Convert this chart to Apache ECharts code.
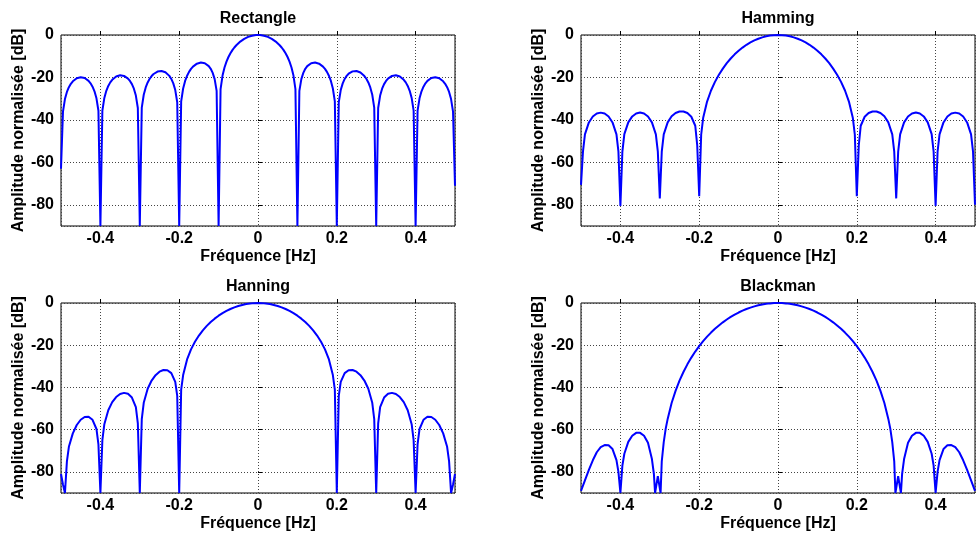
<!DOCTYPE html>
<html>
<head>
<meta charset="utf-8">
<script src="https://cdn.jsdelivr.net/npm/echarts@6/dist/echarts.min.js"></script>
<style>html,body{margin:0;padding:0;background:#fff}#c{width:978px;height:535px}</style>
</head>
<body>
<div id="c"></div>
<script>
const titles = ['Rectangle', 'Hamming', 'Hanning', 'Blackman'];
const xName = 'Fréquence [Hz]';
const yName = 'Amplitude normalisée [dB]';

const rectangle = [
[-0.5,-63],[-0.495,-36.1],[-0.49,-30.2],[-0.485,-26.85],[-0.48,-24.6],[-0.475,-22.98],[-0.47,-21.8],[-0.465,-20.95],[-0.46,-20.37],[-0.455,-20.02],
[-0.45,-19.89],[-0.445,-19.98],[-0.44,-20.28],[-0.435,-20.82],[-0.43,-21.63],[-0.425,-22.77],[-0.42,-24.34],[-0.415,-26.55],[-0.41,-29.85],[-0.405,-35.7],
[-0.4,-90],[-0.395,-35.6],[-0.39,-29.67],[-0.385,-26.28],[-0.38,-23.98],[-0.375,-22.32],[-0.37,-21.1],[-0.365,-20.2],[-0.36,-19.57],[-0.355,-19.17],
[-0.35,-19.0],[-0.345,-19.03],[-0.34,-19.29],[-0.335,-19.78],[-0.33,-20.54],[-0.325,-21.63],[-0.32,-23.14],[-0.315,-25.3],[-0.31,-28.55],[-0.305,-34.4],
[-0.3,-90],[-0.295,-34.2],[-0.29,-28.15],[-0.285,-24.71],[-0.28,-22.35],[-0.275,-20.63],[-0.27,-19.34],[-0.265,-18.38],[-0.26,-17.69],[-0.255,-17.23],
[-0.25,-16.99],[-0.245,-16.96],[-0.24,-17.14],[-0.235,-17.56],[-0.23,-18.25],[-0.225,-19.26],[-0.22,-20.7],[-0.215,-22.78],[-0.21,-25.95],[-0.205,-31.7],
[-0.2,-90],[-0.195,-31.3],[-0.19,-25.2],[-0.185,-21.65],[-0.18,-19.2],[-0.175,-17.37],[-0.17,-15.98],[-0.165,-14.9],[-0.16,-14.09],[-0.155,-13.51],
[-0.15,-13.14],[-0.145,-12.98],[-0.14,-13.02],[-0.135,-13.29],[-0.13,-13.82],[-0.125,-14.67],[-0.12,-15.93],[-0.115,-17.83],[-0.11,-20.8],[-0.105,-26.3],
[-0.1,-90],[-0.095,-25.5],[-0.09,-19.11],[-0.085,-15.29],[-0.08,-12.53],[-0.075,-10.37],[-0.07,-8.62],[-0.065,-7.14],[-0.06,-5.89],[-0.055,-4.82],
[-0.05,-3.89],[-0.045,-3.09],[-0.04,-2.4],[-0.035,-1.81],[-0.03,-1.31],[-0.025,-0.9],[-0.02,-0.57],[-0.015,-0.32],[-0.01,-0.14],[-0.005,-0.04],
[0,0],
[0.005,-0.04],[0.01,-0.14],[0.015,-0.32],[0.02,-0.57],[0.025,-0.9],[0.03,-1.31],[0.035,-1.81],[0.04,-2.4],[0.045,-3.09],[0.05,-3.89],
[0.055,-4.82],[0.06,-5.89],[0.065,-7.14],[0.07,-8.62],[0.075,-10.37],[0.08,-12.53],[0.085,-15.29],[0.09,-19.11],[0.095,-25.5],[0.1,-90],
[0.105,-26.3],[0.11,-20.8],[0.115,-17.83],[0.12,-15.93],[0.125,-14.67],[0.13,-13.82],[0.135,-13.29],[0.14,-13.02],[0.145,-12.98],[0.15,-13.14],
[0.155,-13.51],[0.16,-14.09],[0.165,-14.9],[0.17,-15.98],[0.175,-17.37],[0.18,-19.2],[0.185,-21.65],[0.19,-25.2],[0.195,-31.3],[0.2,-90],
[0.205,-31.7],[0.21,-25.95],[0.215,-22.78],[0.22,-20.7],[0.225,-19.26],[0.23,-18.25],[0.235,-17.56],[0.24,-17.14],[0.245,-16.96],[0.25,-16.99],
[0.255,-17.23],[0.26,-17.69],[0.265,-18.38],[0.27,-19.34],[0.275,-20.63],[0.28,-22.35],[0.285,-24.71],[0.29,-28.15],[0.295,-34.2],[0.3,-90],
[0.305,-34.4],[0.31,-28.55],[0.315,-25.3],[0.32,-23.14],[0.325,-21.63],[0.33,-20.54],[0.335,-19.78],[0.34,-19.29],[0.345,-19.03],[0.35,-19.0],
[0.355,-19.17],[0.36,-19.57],[0.365,-20.2],[0.37,-21.1],[0.375,-22.32],[0.38,-23.98],[0.385,-26.28],[0.39,-29.67],[0.395,-35.6],[0.4,-90],
[0.405,-35.7],[0.41,-29.85],[0.415,-26.55],[0.42,-24.34],[0.425,-22.77],[0.43,-21.63],[0.435,-20.82],[0.44,-20.28],[0.445,-19.98],[0.45,-19.89],
[0.455,-20.02],[0.46,-20.37],[0.465,-20.95],[0.47,-21.8],[0.475,-22.98],[0.48,-24.6],[0.485,-26.85],[0.49,-30.2],[0.495,-36.1],[0.5,-71]
];

const hamming = [
[-0.5,-70.6],[-0.495,-55],[-0.49,-46.8],[-0.48,-41.2],[-0.47,-38.42],[-0.46,-37.0],[-0.45,-36.58],[-0.44,-37.0],[-0.43,-38.41],[-0.42,-41.2],
[-0.41,-46.8],[-0.405,-55],[-0.4,-80.5],[-0.395,-55],[-0.39,-46.7],[-0.38,-41.15],[-0.37,-38.37],[-0.36,-36.96],[-0.35,-36.54],[-0.34,-36.98],
[-0.33,-38.39],[-0.32,-41.18],[-0.31,-46.8],[-0.305,-55],[-0.3,-77],[-0.295,-55],[-0.29,-46.8],[-0.28,-41.17],[-0.27,-38.32],[-0.26,-36.78],
[-0.25,-36.07],[-0.24,-36.05],[-0.23,-36.76],[-0.22,-38.52],[-0.21,-42.77],[-0.205,-52],[-0.2,-76],[-0.195,-47],[-0.19,-39.16],[-0.18,-31.37],
[-0.17,-26.16],[-0.16,-22.09],[-0.15,-18.7],[-0.14,-15.83],[-0.13,-13.29],[-0.12,-11.07],[-0.11,-9.12],[-0.1,-7.41],[-0.09,-5.92],[-0.08,-4.62],
[-0.07,-3.5],[-0.06,-2.55],[-0.05,-1.76],[-0.04,-1.12],[-0.03,-0.63],[-0.02,-0.28],[-0.01,-0.07],
[0,0],
[0.01,-0.07],[0.02,-0.28],[0.03,-0.63],[0.04,-1.12],[0.05,-1.76],[0.06,-2.55],[0.07,-3.5],[0.08,-4.62],[0.09,-5.92],[0.1,-7.41],
[0.11,-9.12],[0.12,-11.07],[0.13,-13.29],[0.14,-15.83],[0.15,-18.7],[0.16,-22.09],[0.17,-26.16],[0.18,-31.37],[0.19,-39.16],[0.195,-47],
[0.2,-76],[0.205,-52],[0.21,-42.77],[0.22,-38.52],[0.23,-36.76],[0.24,-36.05],[0.25,-36.07],[0.26,-36.78],[0.27,-38.32],[0.28,-41.17],
[0.29,-46.8],[0.295,-55],[0.3,-77],[0.305,-55],[0.31,-46.8],[0.32,-41.18],[0.33,-38.39],[0.34,-36.98],[0.35,-36.54],[0.36,-36.96],
[0.37,-38.37],[0.38,-41.15],[0.39,-46.7],[0.395,-55],[0.4,-80.5],[0.405,-55],[0.41,-46.8],[0.42,-41.2],[0.43,-38.41],[0.44,-37.0],
[0.45,-36.58],[0.46,-37.0],[0.47,-38.42],[0.48,-41.2],[0.49,-46.8],[0.495,-55],[0.5,-80]
];

const hanning = [
[-0.5,-81],[-0.495,-86],[-0.49,-90],[-0.485,-75],[-0.48,-68.1],[-0.47,-61.77],[-0.46,-57.79],[-0.45,-55.29],[-0.44,-54.01],[-0.43,-53.9],
[-0.42,-55.34],[-0.41,-59.68],[-0.405,-67],[-0.4,-90],[-0.395,-65],[-0.39,-57.42],[-0.38,-50.78],[-0.37,-46.98],[-0.36,-44.56],[-0.35,-43.14],
[-0.34,-42.58],[-0.33,-42.99],[-0.32,-44.77],[-0.31,-49.33],[-0.305,-57],[-0.3,-90],[-0.295,-55],[-0.29,-47.29],[-0.28,-40.62],[-0.27,-36.73],
[-0.26,-34.17],[-0.25,-32.54],[-0.24,-31.73],[-0.23,-31.83],[-0.22,-33.22],[-0.21,-37.34],[-0.205,-44],[-0.2,-90],[-0.195,-41],[-0.19,-34.11],
[-0.18,-26.71],[-0.17,-21.96],[-0.16,-18.35],[-0.15,-15.42],[-0.14,-12.96],[-0.13,-10.85],[-0.12,-9.02],[-0.11,-7.42],[-0.1,-6.02],[-0.09,-4.8],
[-0.08,-3.75],[-0.07,-2.84],[-0.06,-2.06],[-0.05,-1.42],[-0.04,-0.91],[-0.03,-0.51],[-0.02,-0.22],[-0.01,-0.06],
[0,0],
[0.01,-0.06],[0.02,-0.22],[0.03,-0.51],[0.04,-0.91],[0.05,-1.42],[0.06,-2.06],[0.07,-2.84],[0.08,-3.75],[0.09,-4.8],[0.1,-6.02],
[0.11,-7.42],[0.12,-9.02],[0.13,-10.85],[0.14,-12.96],[0.15,-15.42],[0.16,-18.35],[0.17,-21.96],[0.18,-26.71],[0.19,-34.11],[0.195,-41],
[0.2,-90],[0.205,-44],[0.21,-37.34],[0.22,-33.22],[0.23,-31.83],[0.24,-31.73],[0.25,-32.54],[0.26,-34.17],[0.27,-36.73],[0.28,-40.62],
[0.29,-47.29],[0.295,-55],[0.3,-90],[0.305,-57],[0.31,-49.33],[0.32,-44.77],[0.33,-42.99],[0.34,-42.58],[0.35,-43.14],[0.36,-44.56],
[0.37,-46.98],[0.38,-50.78],[0.39,-57.42],[0.395,-65],[0.4,-90],[0.405,-67],[0.41,-59.68],[0.42,-55.34],[0.43,-53.9],[0.44,-54.01],
[0.45,-55.29],[0.46,-57.79],[0.47,-61.77],[0.48,-68.1],[0.485,-75],[0.49,-90],[0.495,-86],[0.5,-81]
];

const blackman = [
[-0.5,-89],[-0.49,-84],[-0.48,-79],[-0.47,-74.5],[-0.46,-70.7],[-0.45,-68.3],[-0.44,-67.3],[-0.43,-67.4],[-0.42,-69.2],[-0.41,-74.4],
[-0.405,-80],[-0.4,-90],[-0.395,-77],[-0.39,-71.4],[-0.38,-65.8],[-0.37,-62.9],[-0.36,-61.5],[-0.35,-61.5],[-0.34,-62.9],[-0.33,-66.2],
[-0.32,-73.9],[-0.315,-81],[-0.312,-90],[-0.305,-82],[-0.298,-90],[-0.295,-75],[-0.29,-65.9],[-0.285,-59.5],[-0.28,-54.9],[-0.27,-47.4],
[-0.26,-41.6],[-0.25,-36.79],[-0.24,-32.67],[-0.23,-29.07],[-0.22,-25.87],[-0.21,-23.01],[-0.2,-20.43],[-0.19,-18.08],[-0.18,-15.95],[-0.17,-14.01],
[-0.16,-12.24],[-0.15,-10.62],[-0.14,-9.15],[-0.13,-7.81],[-0.12,-6.59],[-0.11,-5.49],[-0.1,-4.51],[-0.09,-3.63],[-0.08,-2.85],[-0.07,-2.17],
[-0.06,-1.59],[-0.05,-1.1],[-0.04,-0.7],[-0.03,-0.39],[-0.02,-0.18],[-0.01,-0.04],
[0,0],
[0.01,-0.04],[0.02,-0.18],[0.03,-0.39],[0.04,-0.7],[0.05,-1.1],[0.06,-1.59],[0.07,-2.17],[0.08,-2.85],[0.09,-3.63],[0.1,-4.51],
[0.11,-5.49],[0.12,-6.59],[0.13,-7.81],[0.14,-9.15],[0.15,-10.62],[0.16,-12.24],[0.17,-14.01],[0.18,-15.95],[0.19,-18.08],[0.2,-20.43],
[0.21,-23.01],[0.22,-25.87],[0.23,-29.07],[0.24,-32.67],[0.25,-36.79],[0.26,-41.6],[0.27,-47.4],[0.28,-54.9],[0.285,-59.5],[0.29,-65.9],
[0.295,-75],[0.298,-90],[0.305,-82],[0.312,-90],[0.315,-81],[0.32,-73.9],[0.33,-66.2],[0.34,-62.9],[0.35,-61.5],[0.36,-61.5],
[0.37,-62.9],[0.38,-65.8],[0.39,-71.4],[0.395,-77],[0.4,-90],[0.405,-80],[0.41,-74.4],[0.42,-69.2],[0.43,-67.4],[0.44,-67.3],
[0.45,-68.3],[0.46,-70.7],[0.47,-74.5],[0.48,-79],[0.49,-84],[0.5,-89]
];

const seriesData = [rectangle, hamming, hanning, blackman];

const gridBoxes = [
  {left: 61, top: 35, width: 394, height: 191},
  {left: 581, top: 35, width: 394, height: 191},
  {left: 61, top: 303, width: 394, height: 190},
  {left: 581, top: 303, width: 394, height: 190}
];
const titleY = [19, 19, 287, 287];

const font = '"Liberation Sans", Arial, Helvetica, sans-serif';
const txt = {color: '#000', fontFamily: font, fontWeight: 'bold', fontSize: 16};
const gridLineStyle = {color: '#444', width: 1, type: [1, 2]};

const chart = echarts.init(document.getElementById('c'), null, {renderer: 'canvas'});
const option = {
  animation: false,
  backgroundColor: '#fff',
  grid: gridBoxes.map(g => Object.assign({show: true, borderColor: '#000', borderWidth: 1, backgroundColor: '#fff', containLabel: false}, g)),
  xAxis: gridBoxes.map((g, i) => ({
    type: 'value', gridIndex: i, min: -0.5, max: 0.5,
    name: xName, nameLocation: 'middle', nameGap: 23, nameTextStyle: txt,
    axisLine: {show: false},
    axisTick: {show: true, inside: true, length: 4, lineStyle: {color: '#000'}},
    axisLabel: Object.assign({margin: 5, showMinLabel: false, showMaxLabel: false}, txt),
    splitLine: {show: true, lineStyle: gridLineStyle}
  })),
  yAxis: gridBoxes.map((g, i) => ({
    type: 'value', gridIndex: i, min: -90, max: 0,
    name: yName, nameLocation: 'middle', nameGap: 29, nameTextStyle: txt,
    axisLine: {show: false},
    axisTick: {show: true, inside: true, length: 4, lineStyle: {color: '#000'}},
    axisLabel: Object.assign({margin: 7, showMinLabel: false}, txt),
    splitLine: {show: true, lineStyle: gridLineStyle}
  })),
  graphic: titles.map((t, i) => ({
    type: 'text',
    x: gridBoxes[i].left + gridBoxes[i].width / 2,
    y: titleY[i],
    style: {text: t, fill: '#000', font: 'bold 16px ' + font, textAlign: 'center', textVerticalAlign: 'middle'}
  })),
  series: seriesData.map((d, i) => ({
    type: 'line', xAxisIndex: i, yAxisIndex: i, data: d,
    showSymbol: false, symbol: 'none', clip: true,
    lineStyle: {color: '#0000ff', width: 2}
  }))
};
chart.setOption(option);
</script>
</body>
</html>
